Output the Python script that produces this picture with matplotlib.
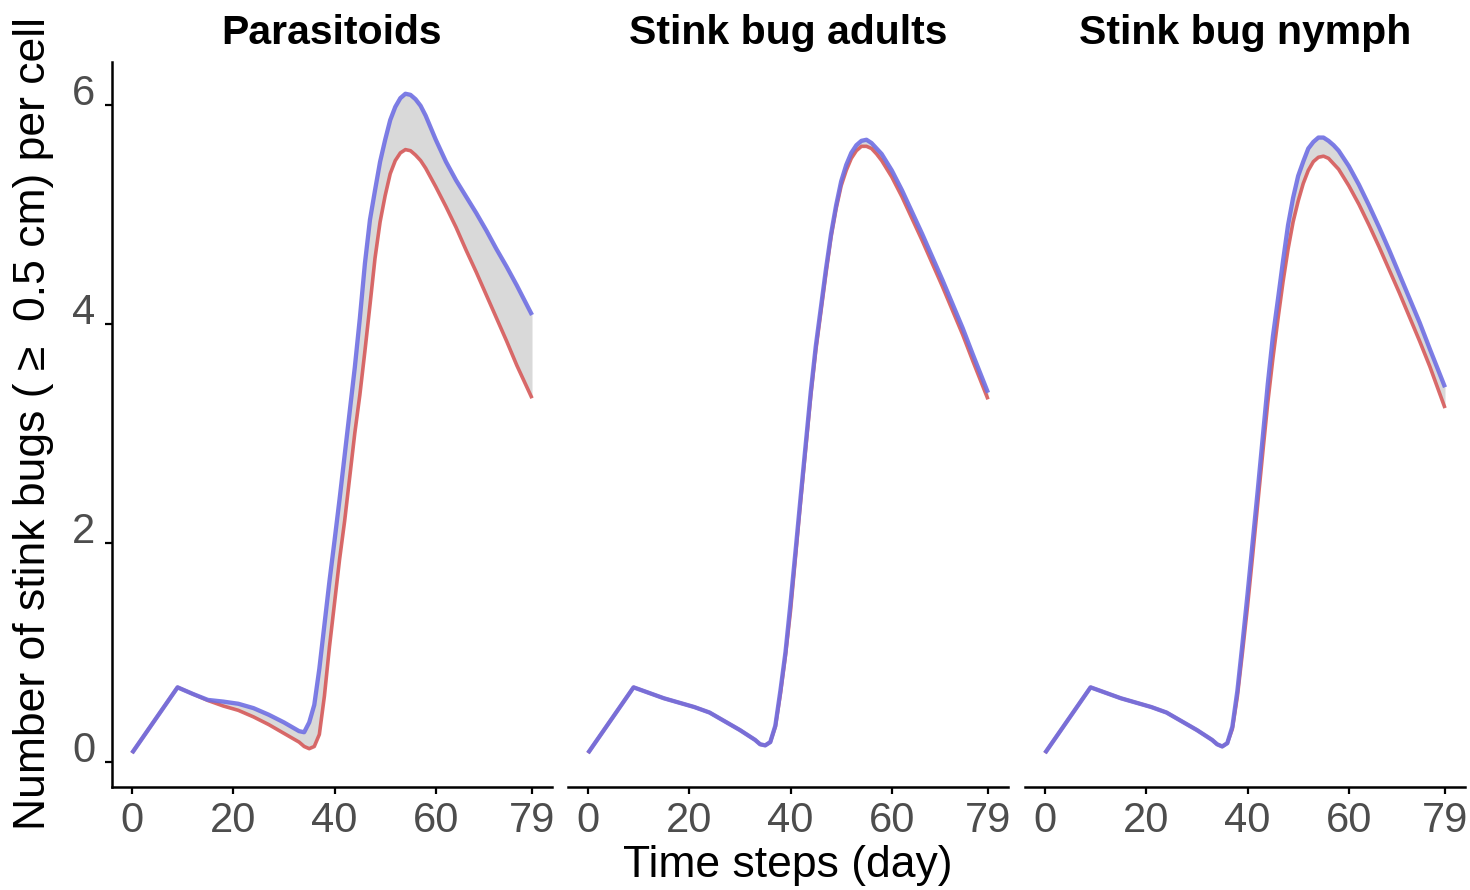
import matplotlib
matplotlib.use("Agg")
import matplotlib.pyplot as plt

plt.rcParams['font.family'] = ['Liberation Sans', 'DejaVu Sans']

# days sampled from the curves
days = [0, 3, 6, 9, 12, 15, 18, 21, 24, 27, 30, 33, 34, 35, 36, 37, 38, 39, 40, 41,
        42, 43, 44, 45, 46, 47, 48, 49, 50, 51, 52, 53, 54, 55, 56, 57, 58, 60, 62,
        64, 66, 68, 70, 72, 74, 76, 79]

panel_titles = ["Parasitoids", "Stink bug adults", "Stink bug nymph"]

para_high = [0.08, 0.28, 0.48, 0.68, 0.62, 0.565, 0.55, 0.53, 0.49, 0.43, 0.36, 0.28, 0.27,
             0.36, 0.52, 0.85, 1.25, 1.65, 2.02, 2.4, 2.8, 3.2, 3.6, 4.05, 4.55, 4.95, 5.22,
             5.48, 5.68, 5.86, 5.98, 6.06, 6.10, 6.09, 6.05, 5.99, 5.90, 5.68, 5.48, 5.31,
             5.16, 5.01, 4.85, 4.68, 4.52, 4.35, 4.08]
para_low = [0.08, 0.28, 0.48, 0.68, 0.62, 0.56, 0.51, 0.47, 0.41, 0.34, 0.26, 0.18, 0.14,
            0.12, 0.14, 0.25, 0.6, 1.05, 1.45, 1.85, 2.2, 2.6, 3.0, 3.35, 3.75, 4.17, 4.6,
            4.93, 5.17, 5.37, 5.49, 5.56, 5.59, 5.58, 5.54, 5.49, 5.42, 5.25, 5.07, 4.88,
            4.67, 4.47, 4.26, 4.05, 3.84, 3.62, 3.32]

adult_high = [0.08, 0.28, 0.48, 0.68, 0.63, 0.58, 0.54, 0.50, 0.45, 0.37, 0.29, 0.20, 0.16,
              0.15, 0.18, 0.33, 0.65, 1.0, 1.45, 1.93, 2.42, 2.9, 3.38, 3.8, 4.15, 4.5, 4.82,
              5.08, 5.30, 5.45, 5.56, 5.63, 5.67, 5.68, 5.65, 5.60, 5.55, 5.40, 5.22, 5.02,
              4.82, 4.61, 4.40, 4.18, 3.96, 3.72, 3.37]
adult_low = [0.08, 0.28, 0.48, 0.68, 0.63, 0.58, 0.54, 0.50, 0.45, 0.37, 0.29, 0.20, 0.16,
             0.15, 0.18, 0.32, 0.62, 0.97, 1.38, 1.88, 2.38, 2.86, 3.34, 3.76, 4.11, 4.46, 4.79,
             5.05, 5.26, 5.40, 5.51, 5.58, 5.62, 5.62, 5.60, 5.55, 5.49, 5.34, 5.16, 4.96,
             4.76, 4.55, 4.34, 4.12, 3.90, 3.66, 3.31]

nymph_high = [0.08, 0.28, 0.48, 0.68, 0.63, 0.58, 0.54, 0.50, 0.45, 0.37, 0.29, 0.20, 0.16,
              0.14, 0.17, 0.32, 0.65, 1.08, 1.53, 2.0, 2.47, 2.96, 3.45, 3.88, 4.22, 4.57, 4.9,
              5.15, 5.35, 5.48, 5.60, 5.66, 5.70, 5.70, 5.67, 5.63, 5.58, 5.44, 5.27, 5.08,
              4.88, 4.67, 4.45, 4.23, 4.01, 3.77, 3.42]
nymph_low = [0.08, 0.28, 0.48, 0.68, 0.63, 0.58, 0.54, 0.50, 0.45, 0.37, 0.29, 0.20, 0.16,
             0.14, 0.17, 0.30, 0.6, 1.0, 1.42, 1.88, 2.35, 2.82, 3.28, 3.68, 4.04, 4.38, 4.68,
             4.93, 5.12, 5.28, 5.40, 5.48, 5.52, 5.53, 5.51, 5.46, 5.41, 5.26, 5.09, 4.90,
             4.70, 4.49, 4.28, 4.06, 3.84, 3.61, 3.23]

highs = [para_high, adult_high, nymph_high]
lows = [para_low, adult_low, nymph_low]

x_ticks = [0, 20, 40, 60, 79]
y_ticks = [0, 2, 4, 6]

blue = "#6f6fe3"
red = "#d65a5a"
grey = "#d9d9d9"
tick_grey = "#4d4d4d"

fig = plt.figure(figsize=(14.7, 8.9), dpi=100)
lefts = [112 / 1470, 568 / 1470, 1025 / 1470]
width = 440 / 1470
bottom = 103 / 890
height = 725 / 890

for i in range(3):
    ax = fig.add_axes([lefts[i], bottom, width, height])
    ax.fill_between(days, lows[i], highs[i], color=grey, lw=0, zorder=1)
    ax.plot(days, lows[i], color=red, lw=2.6, alpha=0.9, zorder=2,
            solid_capstyle='butt', solid_joinstyle='round')
    ax.plot(days, highs[i], color=blue, lw=3.1, alpha=0.9, zorder=3,
            solid_capstyle='butt', solid_joinstyle='round')

    ax.set_xlim(-3.95, 82.95)
    ax.set_ylim(-0.23, 6.39)
    ax.set_xticks(x_ticks)
    ax.set_xticklabels([str(t) for t in x_ticks])

    for s in ['top', 'right']:
        ax.spines[s].set_visible(False)
    ax.spines['bottom'].set_linewidth(1.8)
    ax.spines['left'].set_linewidth(1.8)
    ax.tick_params(axis='x', length=5, width=1.6, pad=5, labelsize=30,
                   labelcolor=tick_grey, color='black')
    if i == 0:
        ax.set_yticks(y_ticks)
        ax.set_yticklabels([str(v) for v in y_ticks])
        ax.tick_params(axis='y', length=5, width=1.6, pad=7, labelsize=30,
                       labelcolor=tick_grey, color='black')
        for lab in ax.get_yticklabels():
            lab.set_verticalalignment('baseline')
    else:
        ax.spines['left'].set_visible(False)
        ax.set_yticks([])

    ax.set_title(panel_titles[i], fontsize=29.5, fontweight='bold', pad=13)

fig.text(788 / 1470, 1 - 866 / 890, "Time steps (day)", fontsize=32,
         ha='center', va='center')
fig.text(34 / 1470, 1 - 423 / 890, "Number of stink bugs ( \u2265  0.5 cm) per cell",
         fontsize=32, rotation=90, ha='center', va='center')

fig.savefig("out.png", dpi=100)
